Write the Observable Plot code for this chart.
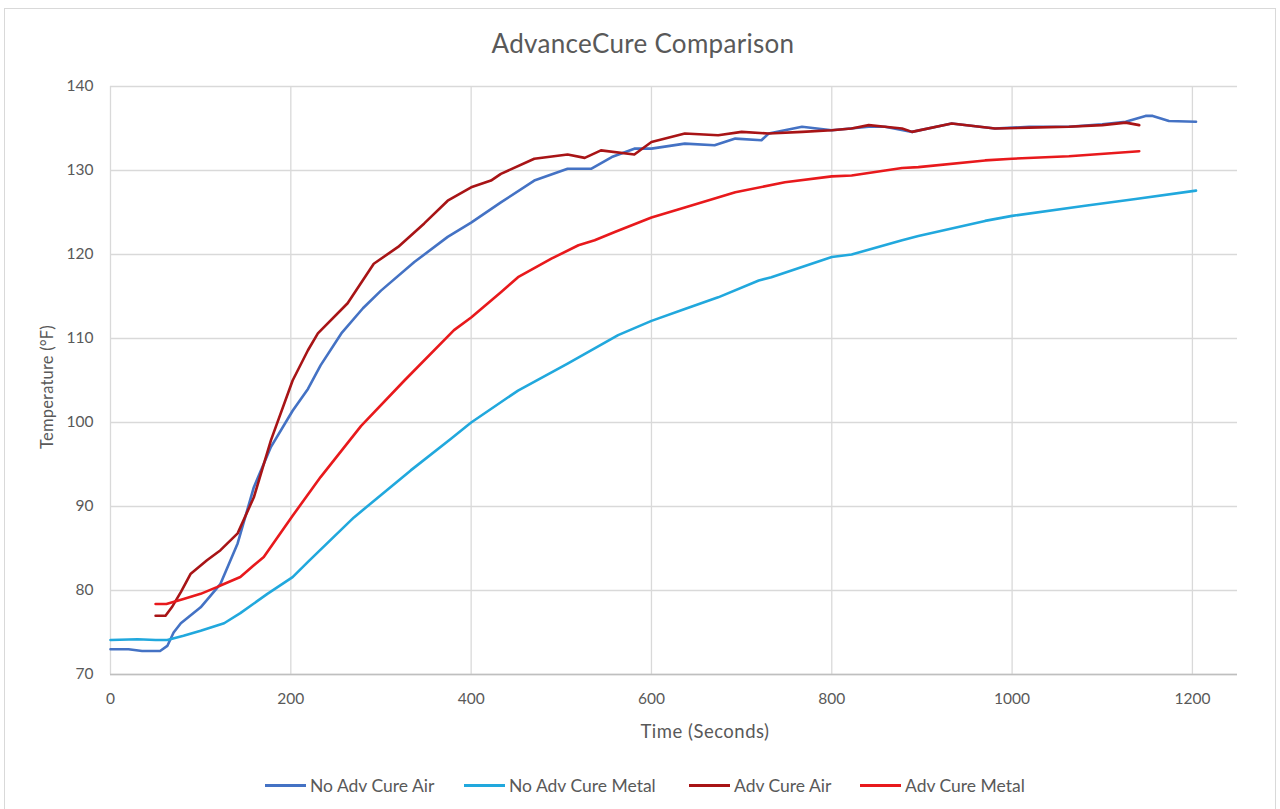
<!DOCTYPE html>
<html><head><meta charset="utf-8">
<script src="https://cdn.jsdelivr.net/npm/d3@7"></script>
<script src="https://cdn.jsdelivr.net/npm/@observablehq/plot@0.6"></script>
<style>
body{margin:0;background:#fff;font-family:Lato,"Open Sans",sans-serif;color:#595959;}
#wrap{position:relative;width:1280px;height:809px;overflow:hidden;background:#fff;}
#border{position:absolute;left:4px;top:8px;width:1272px;height:830px;border:1px solid #D9D9D9;box-sizing:border-box;}
#chart{position:absolute;left:0;top:0;}
#title{position:absolute;left:0;width:1286px;top:27px;text-align:center;font-size:26px;letter-spacing:0.3px;color:#595959;}
#xlabel{position:absolute;left:555px;width:300px;top:720px;text-align:center;font-size:18.5px;letter-spacing:0.5px;}
#ylabel{position:absolute;left:47px;top:387px;transform:translate(-50%,-50%) rotate(-90deg);font-size:16.5px;letter-spacing:0.2px;white-space:nowrap;}
.leg{position:absolute;top:775px;height:20px;display:flex;align-items:center;font-size:17.5px;white-space:nowrap;}
.leg span.sw{display:inline-block;width:41px;height:3px;margin-right:4px;}
</style></head>
<body>
<div id="wrap">
  <div id="border"></div>
  <div id="chart"></div>
  <div id="title">AdvanceCure Comparison</div>
  <div id="xlabel">Time (Seconds)</div>
  <div id="ylabel">Temperature (°F)</div>
  <div id="legend"></div>
</div>
<script>
const seriesNames = ["No Adv Cure Air", "No Adv Cure Metal", "Adv Cure Air", "Adv Cure Metal"];
const seriesColors = ["#4472C4", "#21A8DD", "#A81416", "#E8191C"];
const xTicks = [0, 200, 400, 600, 800, 1000, 1200];
const yTicks = [70, 80, 90, 100, 110, 120, 130, 140];

// No Adv Cure Air
const noAdvAirT = [0, 20, 35, 55, 63, 70, 78, 100, 119, 122, 141, 159, 178, 202, 219, 233, 256, 280, 300, 337, 374, 400, 433, 470, 507, 533, 556, 581, 600, 637, 670, 693, 722, 730, 767, 800, 841, 859, 889, 933, 981, 1019, 1063, 1100, 1126, 1148, 1156, 1174, 1204];
const noAdvAirV = [73.0, 73.0, 72.8, 72.8, 73.4, 75.0, 76.1, 78.0, 80.4, 80.8, 85.6, 92.3, 97.1, 101.4, 104.0, 106.8, 110.6, 113.6, 115.7, 119.1, 122.1, 123.8, 126.2, 128.8, 130.2, 130.2, 131.6, 132.6, 132.6, 133.2, 133.0, 133.8, 133.6, 134.4, 135.2, 134.8, 135.2, 135.2, 134.6, 135.6, 135.0, 135.2, 135.2, 135.5, 135.8, 136.5, 136.5, 135.9, 135.8];

// No Adv Cure Metal
const noAdvMetalT = [0, 30, 50, 63, 81, 100, 126, 144, 174, 202, 219, 270, 333, 378, 400, 452, 507, 563, 600, 637, 674, 719, 733, 800, 822, 878, 896, 970, 1000, 1081, 1137, 1204];
const noAdvMetalV = [74.1, 74.2, 74.1, 74.1, 74.6, 75.2, 76.1, 77.3, 79.6, 81.6, 83.4, 88.7, 94.3, 98.1, 100.0, 103.8, 107.0, 110.4, 112.1, 113.5, 114.9, 116.9, 117.3, 119.7, 120.0, 121.7, 122.2, 124.0, 124.6, 125.8, 126.6, 127.6];

// Adv Cure Air
const advAirT = [50, 61, 68, 78, 89, 107, 122, 141, 159, 178, 202, 219, 230, 263, 292, 319, 348, 374, 400, 422, 433, 470, 507, 526, 544, 581, 600, 637, 674, 700, 730, 767, 800, 822, 841, 859, 878, 889, 933, 981, 1019, 1063, 1100, 1126, 1141];
const advAirV = [77.0, 77.0, 78.0, 79.8, 82.0, 83.6, 84.8, 86.8, 91.1, 97.9, 105.0, 108.6, 110.6, 114.2, 118.9, 120.9, 123.7, 126.4, 128.0, 128.8, 129.6, 131.4, 131.9, 131.5, 132.4, 131.9, 133.4, 134.4, 134.2, 134.6, 134.4, 134.6, 134.8, 135.0, 135.4, 135.2, 135.0, 134.6, 135.6, 135.0, 135.1, 135.2, 135.4, 135.7, 135.4];

// Adv Cure Metal
const advMetalT = [50, 62, 81, 100, 118, 122, 144, 159, 170, 202, 233, 278, 326, 381, 400, 433, 452, 489, 519, 537, 560, 600, 637, 693, 748, 800, 822, 878, 896, 970, 1000, 1063, 1141];
const advMetalV = [78.4, 78.4, 79.0, 79.6, 80.4, 80.6, 81.6, 83.0, 84.0, 88.9, 93.5, 99.6, 105.0, 111.0, 112.5, 115.5, 117.3, 119.5, 121.1, 121.7, 122.7, 124.4, 125.6, 127.4, 128.6, 129.3, 129.4, 130.3, 130.4, 131.2, 131.4, 131.7, 132.3];

const seriesT = [noAdvAirT, noAdvMetalT, advAirT, advMetalT];
const seriesV = [noAdvAirV, noAdvMetalV, advAirV, advMetalV];

const rows = [];
seriesNames.forEach((name, k) => {
  seriesT[k].forEach((t, i) => rows.push({series: name, t, temp: seriesV[k][i]}));
});

const chart = Plot.plot({
  width: 1280,
  height: 760,
  marginLeft: 110,
  marginRight: 43,
  marginTop: 86,
  marginBottom: 86,
  style: {fontFamily: "Lato, 'Open Sans', sans-serif", fontSize: "15.5px", color: "#595959", background: "transparent"},
  x: {domain: [0, 1250], label: null},
  y: {domain: [70, 140], label: null},
  color: {domain: seriesNames, range: seriesColors},
  marks: [
    Plot.gridX(xTicks, {stroke: "#D9D9D9", strokeOpacity: 1, strokeWidth: 1.3}),
    Plot.gridY(yTicks, {stroke: "#D9D9D9", strokeOpacity: 1, strokeWidth: 1.3}),
    Plot.ruleY([70], {stroke: "#BFBFBF", strokeWidth: 1.3}),
    Plot.line(rows, {x: "t", y: "temp", z: "series", stroke: "series", strokeWidth: 2.6, curve: "linear"}),
    Plot.axisX(xTicks, {tickSize: 0, tickPadding: 18, fill: "#595959", tickFormat: d => String(d)}),
    Plot.axisY(yTicks, {tickSize: 0, tickPadding: 17, fill: "#595959", tickFormat: d => String(d)})
  ]
});
document.getElementById("chart").appendChild(chart);

const legLefts = [265, 464, 689, 860];
const legend = document.getElementById("legend");
seriesNames.forEach((name, k) => {
  const d = document.createElement("div");
  d.className = "leg";
  d.style.left = legLefts[k] + "px";
  d.innerHTML = `<span class="sw" style="background:${seriesColors[k]}"></span>${name}`;
  legend.appendChild(d);
});
</script>
</body></html>
